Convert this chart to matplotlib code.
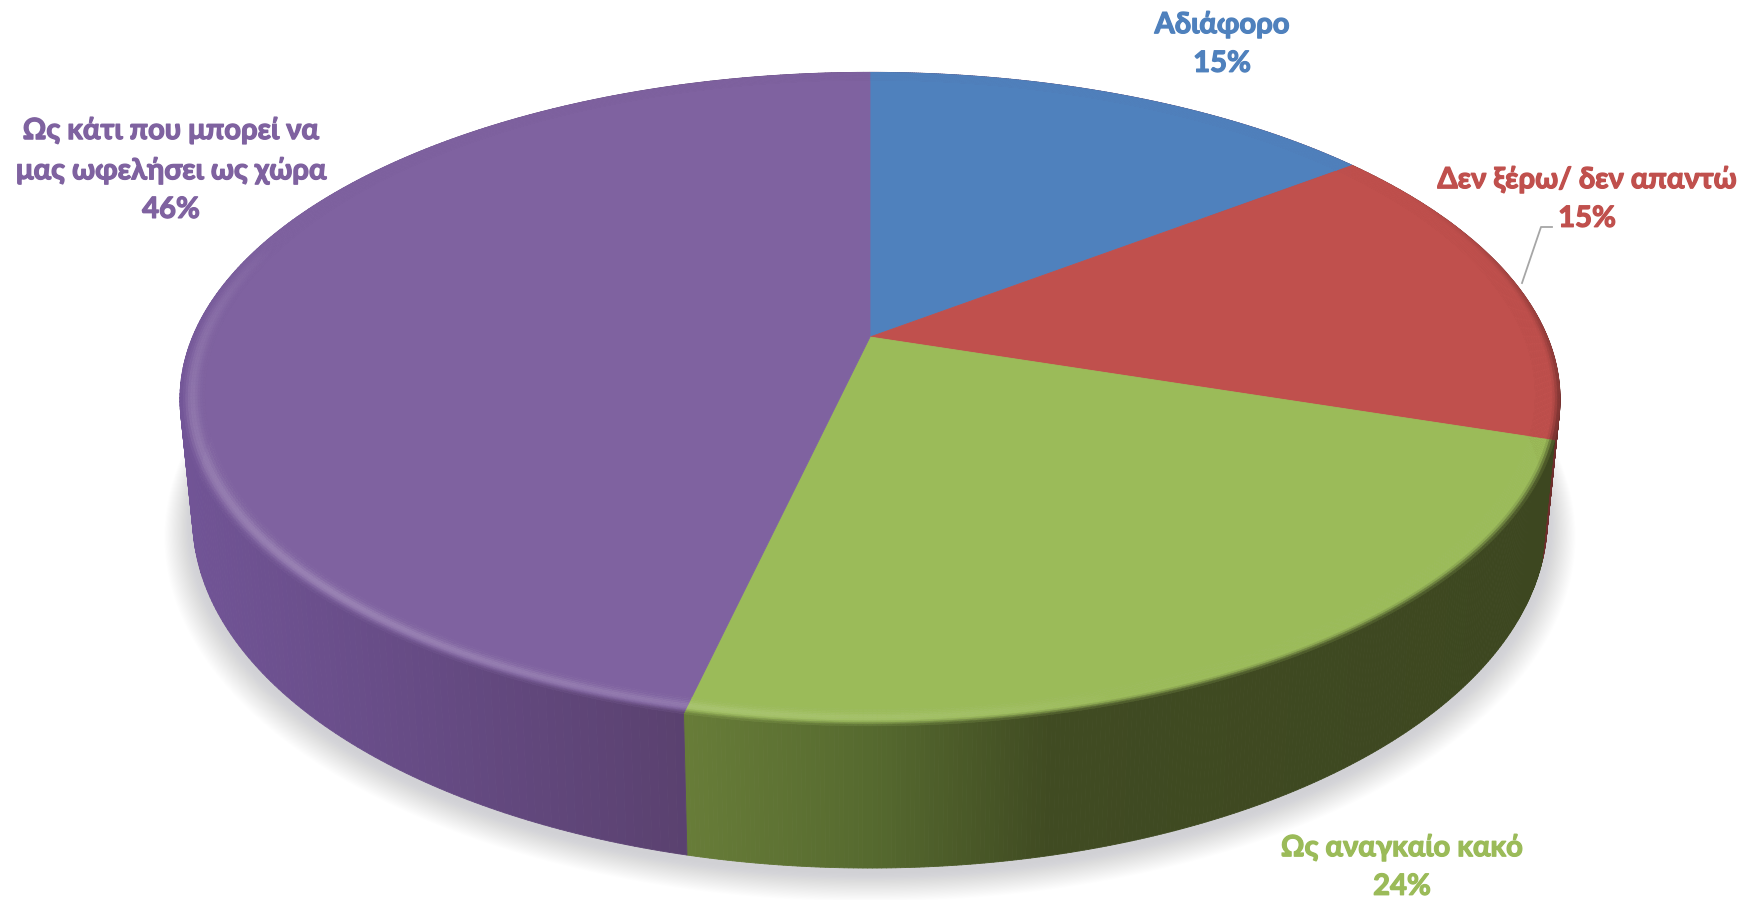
import numpy as np
import matplotlib
matplotlib.use("Agg")
import matplotlib.pyplot as plt
import matplotlib.patheffects as pe
from matplotlib.collections import PolyCollection
from matplotlib.colors import to_rgb

# shares (labels show them rounded)
names = ["Αδιάφορο", "Δεν ξέρω/ δεν απαντώ", "Ως αναγκαίο κακό", "Ως κάτι που μπορεί να\nμας ωφελήσει ως χώρα"]
shares = [14.6, 15.4, 23.6, 46.4]
colors = ["#4f81bd", "#c0504d", "#9bbb59", "#7f62a0"]
label_pos = [(1222, 44), (1587, 199), (1402, 867), (171, 170)]
# side wall colours along the screen x
wall_x = [180, 400, 687, 690, 870, 1050, 1530, 1561]
wall_cols = ["#715496", "#674c86", "#5a416f", "#677c38", "#566a2f", "#404b22", "#3d4720", "#6e2e2c"]

plt.rcParams["font.family"] = ["Lato", "Open Sans", "DejaVu Sans"]

CX = 870
K = 0.19


def project(theta, r, cy, a, b):
    u = r * np.sin(theta)
    v = r * np.cos(theta)
    w = 1 + K * v
    return CX + a * u / w, cy - b * v / w


def top(theta, r=1.0):
    return project(theta, r, 337, 677.5, 315)


def bottom(theta, r=1.0):
    return project(theta, r, 452, 665, 337)


def wall_colour(x):
    rgb = np.array([to_rgb(c) for c in wall_cols])
    return np.array([np.interp(x, wall_x, rgb[:, i]) for i in range(3)]).T


fig = plt.figure(figsize=(17.42, 9), dpi=100)
ax = fig.add_axes([0, 0, 1, 1])
ax.set_xlim(0, 1742)
ax.set_ylim(900, 0)
ax.axis("off")

edges = np.r_[0, np.cumsum(shares)] / np.sum(shares) * 2 * np.pi

# soft shadow under the pie
t = np.linspace(0, 2 * np.pi, 400)
for i in range(25):
    f = 1.04 - i * 0.0016
    x, y = bottom(t, f)
    ax.fill(x, y + 4 + (25 - i) * 0.35, color="#808088", alpha=0.012, lw=0, zorder=1)

# side walls
for i in range(len(shares)):
    t = np.linspace(edges[i], edges[i + 1], 260)
    x0, y0 = top(t)
    x1, y1 = bottom(t)
    quads = [[(x0[j], y0[j]), (x0[j + 1], y0[j + 1]), (x1[j + 1], y1[j + 1]), (x1[j], y1[j])]
             for j in range(len(t) - 1)]
    mid = (x0[:-1] + x0[1:]) / 2
    if i == 1:
        fc = np.tile(to_rgb("#6e2e2c"), (len(quads), 1))
    elif i == 2:
        fc = wall_colour(np.clip(mid, 690, 1530))
    else:
        fc = wall_colour(np.clip(mid, 180, 687))
    ax.add_collection(PolyCollection(quads, facecolors=fc, edgecolors=fc, linewidths=0.6, zorder=2))

# top face
R0 = 0.965
for i, c in enumerate(colors):
    t = np.linspace(edges[i], edges[i + 1], 260)
    x, y = top(t, R0)
    ax.fill(np.r_[CX, x], np.r_[337, y], color=c, lw=0.6, zorder=3)

    # bevel band round the edge
    base = np.array(to_rgb(c))
    rs = np.linspace(R0, 1.0, 11)
    quads, fc = [], []
    for j in range(len(t) - 1):
        tm = (t[j] + t[j + 1]) / 2
        deg = np.degrees(tm)
        # highlight strongest bottom left, gone at the back and on the right
        hl = np.clip(1 - abs(deg - 225) / 62, 0, 1) ** 0.6
        xm = top(np.array([tm]))[0]
        wc = wall_colour(np.clip(xm, 690 if i == 2 else 180, 1530 if i == 2 else 687))[0]
        if i == 1:
            wc = np.array(to_rgb("#6e2e2c"))
        for n in range(len(rs) - 1):
            ra, rb = rs[n], rs[n + 1]
            xa, ya = top(t[j:j + 2], ra)
            xb, yb = top(t[j:j + 2], rb)
            quads.append([(xa[0], ya[0]), (xa[1], ya[1]), (xb[1], yb[1]), (xb[0], yb[0])])
            s = (n + 0.5) / (len(rs) - 1)
            col = base + (1 - base) * 0.2 * hl * np.exp(-((s - 0.5) / 0.25) ** 2)
            vis = np.clip((deg - 60) / 50, 0, 1) * np.clip((290 - deg) / 30, 0, 1)
            mix = vis * np.clip((s - 0.7) / 0.3, 0, 1)
            fc.append(col * (1 - mix) + wc * mix)
    fc = np.array(fc)
    ax.add_collection(PolyCollection(quads, facecolors=fc, edgecolors=fc, linewidths=0.4, zorder=4))

# leader line of the red label
ax.plot([1522, 1541, 1552], [283, 227, 227], color="#a6a6a6", lw=1.3, zorder=5)

for name, share, c, pos in zip(names, shares, colors, label_pos):
    ax.text(pos[0], pos[1], f"{name}\n{round(share)}%", color=c, fontsize=21, fontweight="bold",
            ha="center", va="center", linespacing=1.6, zorder=6,
            path_effects=[pe.withStroke(linewidth=0.9, foreground=c)])

fig.savefig("out.png", dpi=100)
